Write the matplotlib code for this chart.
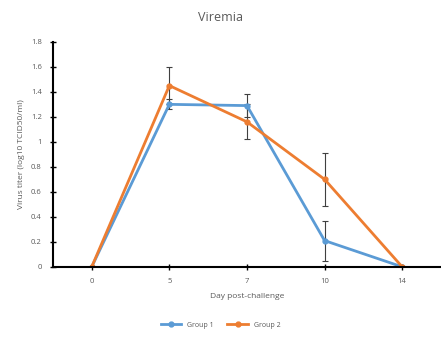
import matplotlib.pyplot as plt
from matplotlib.lines import Line2D
import numpy as np

# Data
days = ['0', '5', '7', '10', '14']
group1 = [0, 1.30, 1.29, 0.21, 0]
group1_err = [0, 0.04, 0.09, 0.16, 0]
group2 = [0, 1.45, 1.16, 0.70, 0]
group2_err = [0, 0.15, 0.14, 0.21, 0]

c_blue = '#5B9BD5'
c_orange = '#ED7D31'
c_text = '#595959'

plt.rcParams['font.family'] = ['Open Sans', 'DejaVu Sans']

fig = plt.figure(figsize=(4.41, 3.43), dpi=100)
ax = fig.add_axes([0.12, 0.222, 0.88, 0.656])

x = np.arange(len(days))
ax.errorbar(x, group1, yerr=group1_err, color=c_blue, lw=2, marker='o', ms=3.5,
            ecolor='#404040', elinewidth=0.8, capsize=2, capthick=0.8)
ax.errorbar(x, group2, yerr=group2_err, color=c_orange, lw=2, marker='o', ms=3.5,
            ecolor='#404040', elinewidth=0.8, capsize=2, capthick=0.8)

ax.set_xlim(-0.5, len(days) - 0.5)
ax.set_ylim(0, 1.8)
ax.set_xticks(x)
ax.set_xticklabels(days)
yt = np.arange(0, 1.81, 0.2)
ax.set_yticks(yt)
ax.set_yticklabels([f'{v:g}' for v in np.round(yt, 1)])

for s in ['top', 'right']:
    ax.spines[s].set_visible(False)
ax.spines['left'].set_linewidth(1.5)
ax.spines['bottom'].set_linewidth(1.5)
ax.tick_params(axis='both', direction='inout', length=4, width=1, labelsize=5.5,
               colors='black', labelcolor=c_text, pad=6)

ax.set_xlabel('Day post-challenge', fontsize=6, color=c_text, labelpad=6)
ax.set_ylabel('Virus titer (log10 TCID50/ml)', fontsize=6, color=c_text, labelpad=4)
fig.text(0.5, 0.95, 'Viremia', ha='center', va='center', fontsize=9, color=c_text)

handles = [Line2D([], [], color=c_blue, lw=2, marker='o', ms=3.5),
           Line2D([], [], color=c_orange, lw=2, marker='o', ms=3.5)]
leg = fig.legend(handles, ['Group 1', 'Group 2'], loc='center', bbox_to_anchor=(0.5, 0.052),
                 ncol=2, frameon=False, fontsize=5, handlelength=3, columnspacing=2)
for t in leg.get_texts():
    t.set_color(c_text)

plt.savefig('out.png', dpi=100)
